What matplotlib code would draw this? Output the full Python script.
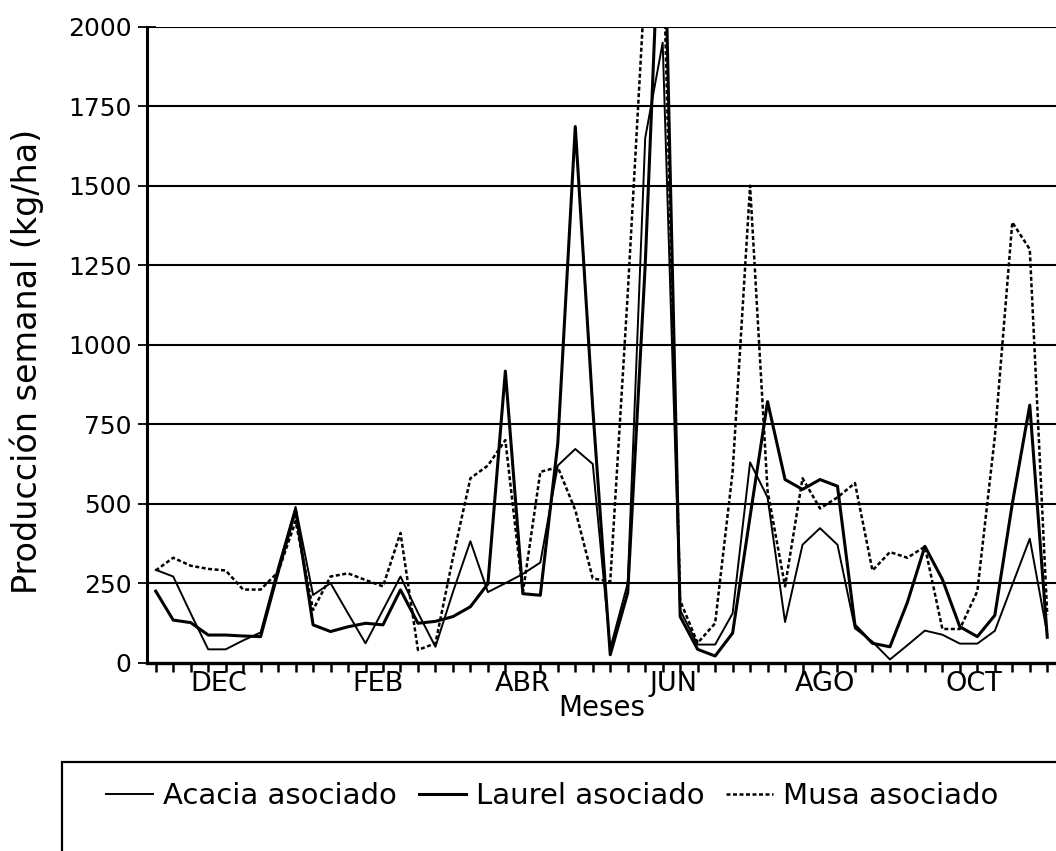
import numpy as np
import matplotlib.pyplot as plt
from matplotlib.patches import Rectangle

plt.rcParams['font.family'] = ['DejaVu Sans']

# weekly production (kg/ha), 52 weeks from late November
weeks = np.arange(52)
acacia = [292, 271, 155, 42, 42, 70, 95, 300, 490, 213,
          250, 155, 61, 166, 271, 157, 50, 222, 382, 222,
          250, 279, 315, 620, 672, 625, 45, 250, 1650, 1950,
          165, 57, 57, 155, 630, 520, 128, 371, 423, 371,
          108, 66, 10, 55, 101, 88, 60, 60, 100, 245,
          390, 90]
laurel = [225, 134, 126, 87, 87, 84, 82, 285, 480, 119,
          98, 113, 124, 119, 229, 124, 130, 145, 176, 248,
          917, 217, 212, 690, 1686, 800, 25, 220, 1250, 2600,
          145, 42, 21, 93, 460, 821, 576, 545, 576, 555,
          118, 61, 50, 190, 366, 262, 113, 82, 149, 500,
          810, 80]
musa = [290, 330, 305, 295, 290, 230, 230, 285, 445, 166,
        271, 281, 260, 240, 408, 40, 61, 330, 580, 620,
        700, 220, 600, 615, 480, 265, 255, 1160, 2150, 2300,
        195, 62, 124, 600, 1500, 540, 240, 580, 485, 520,
        565, 290, 348, 330, 365, 106, 106, 225, 710, 1385,
        1300, 150]

month_labels = ['DEC', 'FEB', 'ABR', 'JUN', 'AGO', 'OCT']
month_pos = [3.6, 12.7, 21.0, 29.6, 38.3, 46.8]
y_ticks = [0, 250, 500, 750, 1000, 1250, 1500, 1750, 2000]

W, H = 1056, 851
fig = plt.figure(figsize=(W / 100, H / 100), dpi=100)
ax = fig.add_axes([147 / W, 1 - 662.7 / H, (W - 147) / W, 636 / H])

l1, = ax.plot(weeks, acacia, color='black', lw=1.4, label='Acacia asociado')
l2, = ax.plot(weeks, laurel, color='black', lw=2.2, label='Laurel asociado')
l3, = ax.plot(weeks, musa, color='black', lw=1.8, ls=(0, (1.6, 1.0)),
              label='Musa asociado')

ax.set_xlim(-0.5, 51.5)
ax.set_ylim(0, 2000)
ax.set_yticks(y_ticks)
for v in y_ticks[1:]:
    ax.axhline(v, color='black', lw=1.5, zorder=0)

ax.set_xticks(month_pos)
ax.set_xticklabels(month_labels)
ax.set_xticks(weeks, minor=True)
ax.tick_params(axis='x', which='major', length=0, pad=6, labelsize=19.5)
ax.tick_params(axis='x', which='minor', direction='out', length=6.5, width=1.8)
ax.tick_params(axis='y', direction='inout', length=13.5, width=1.3, pad=4.5,
               labelsize=18)

for s in ['top', 'right']:
    ax.spines[s].set_visible(False)
ax.spines['left'].set_linewidth(2.2)
ax.spines['bottom'].set_linewidth(2.4)

ax.set_xlabel('Meses', fontsize=20, labelpad=-2)
ax.set_ylabel('Producción semanal (kg/ha)', fontsize=24)
ax.yaxis.set_label_coords(-0.113, 0.473)

# legend box runs off the right edge of the page
fig.patches.append(Rectangle((62 / W, -0.05), 1.0, 1 - 762 / H + 0.05,
                             transform=fig.transFigure, fill=False,
                             edgecolor='black', lw=1.6))
fig.legend(handles=[l1, l2, l3], loc='center left',
           bbox_to_anchor=(80 / W, 1 - 796 / H), ncol=3, frameon=False,
           fontsize=21, handlelength=1.6, handletextpad=0.35,
           columnspacing=0.75)

fig.savefig('out.png', dpi=100)
